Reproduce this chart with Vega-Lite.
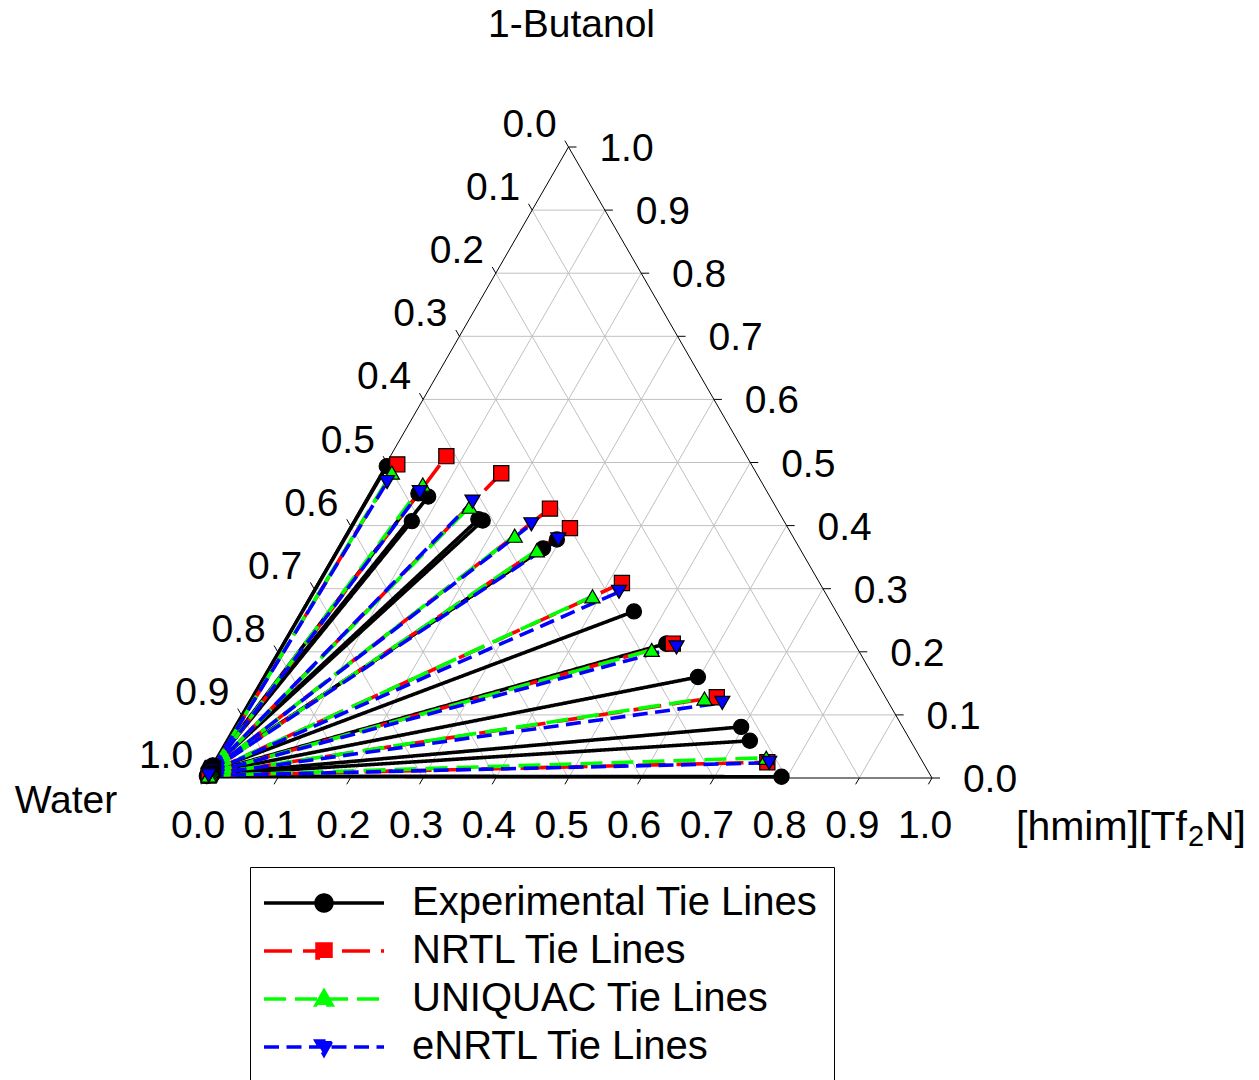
{
  "$schema": "https://vega.github.io/schema/vega-lite/v6.json",
  "autosize": {"type": "none"},
  "padding": {"left": 205, "top": 147, "right": 327, "bottom": 302},
  "width": 727,
  "height": 631,
  "background": "white",
  "config": {"view": {"stroke": null}},
  "datasets": {
    "tk": [{"v":0},{"v":0.1},{"v":0.2},{"v":0.3},{"v":0.4},{"v":0.5},{"v":0.6},{"v":0.7},{"v":0.8},{"v":0.9},{"v":1}],
    "ties": [
      {"model":"Experimental Tie Lines","aw":0.001,"bw":0.020,"ar":0.003,"br":0.494},
      {"model":"Experimental Tie Lines","aw":0.001,"bw":0.019,"ar":0.068,"br":0.451},
      {"model":"Experimental Tie Lines","aw":0.001,"bw":0.018,"ar":0.084,"br":0.446},
      {"model":"Experimental Tie Lines","aw":0.001,"bw":0.017,"ar":0.081,"br":0.407},
      {"model":"Experimental Tie Lines","aw":0.001,"bw":0.016,"ar":0.171,"br":0.410},
      {"model":"Experimental Tie Lines","aw":0.001,"bw":0.015,"ar":0.178,"br":0.408},
      {"model":"Experimental Tie Lines","aw":0.001,"bw":0.013,"ar":0.283,"br":0.364},
      {"model":"Experimental Tie Lines","aw":0.001,"bw":0.013,"ar":0.295,"br":0.378},
      {"model":"Experimental Tie Lines","aw":0.001,"bw":0.011,"ar":0.458,"br":0.264},
      {"model":"Experimental Tie Lines","aw":0.001,"bw":0.009,"ar":0.528,"br":0.213},
      {"model":"Experimental Tie Lines","aw":0.001,"bw":0.008,"ar":0.598,"br":0.160},
      {"model":"Experimental Tie Lines","aw":0.001,"bw":0.006,"ar":0.697,"br":0.081},
      {"model":"Experimental Tie Lines","aw":0.001,"bw":0.005,"ar":0.720,"br":0.059},
      {"model":"Experimental Tie Lines","aw":0.001,"bw":0.003,"ar":0.792,"br":0.002},
      {"model":"NRTL Tie Lines","aw":0.003,"bw":0.016,"ar":0.016,"br":0.497},
      {"model":"NRTL Tie Lines","aw":0.003,"bw":0.015,"ar":0.077,"br":0.510},
      {"model":"NRTL Tie Lines","aw":0.003,"bw":0.014,"ar":0.166,"br":0.483},
      {"model":"NRTL Tie Lines","aw":0.003,"bw":0.013,"ar":0.261,"br":0.427},
      {"model":"NRTL Tie Lines","aw":0.003,"bw":0.012,"ar":0.304,"br":0.396},
      {"model":"NRTL Tie Lines","aw":0.003,"bw":0.010,"ar":0.419,"br":0.309},
      {"model":"NRTL Tie Lines","aw":0.003,"bw":0.008,"ar":0.537,"br":0.213},
      {"model":"NRTL Tie Lines","aw":0.003,"bw":0.006,"ar":0.640,"br":0.128},
      {"model":"NRTL Tie Lines","aw":0.003,"bw":0.004,"ar":0.761,"br":0.025},
      {"model":"UNIQUAC Tie Lines","aw":0.003,"bw":0.016,"ar":0.015,"br":0.484},
      {"model":"UNIQUAC Tie Lines","aw":0.003,"bw":0.015,"ar":0.067,"br":0.465},
      {"model":"UNIQUAC Tie Lines","aw":0.003,"bw":0.014,"ar":0.149,"br":0.430},
      {"model":"UNIQUAC Tie Lines","aw":0.003,"bw":0.013,"ar":0.234,"br":0.384},
      {"model":"UNIQUAC Tie Lines","aw":0.003,"bw":0.012,"ar":0.276,"br":0.361},
      {"model":"UNIQUAC Tie Lines","aw":0.003,"bw":0.010,"ar":0.389,"br":0.288},
      {"model":"UNIQUAC Tie Lines","aw":0.003,"bw":0.008,"ar":0.513,"br":0.203},
      {"model":"UNIQUAC Tie Lines","aw":0.003,"bw":0.006,"ar":0.624,"br":0.126},
      {"model":"UNIQUAC Tie Lines","aw":0.003,"bw":0.004,"ar":0.756,"br":0.032},
      {"model":"eNRTL Tie Lines","aw":0.003,"bw":0.016,"ar":0.016,"br":0.469},
      {"model":"eNRTL Tie Lines","aw":0.003,"bw":0.015,"ar":0.069,"br":0.453},
      {"model":"eNRTL Tie Lines","aw":0.003,"bw":0.014,"ar":0.149,"br":0.438},
      {"model":"eNRTL Tie Lines","aw":0.003,"bw":0.013,"ar":0.248,"br":0.402},
      {"model":"eNRTL Tie Lines","aw":0.003,"bw":0.012,"ar":0.297,"br":0.378},
      {"model":"eNRTL Tie Lines","aw":0.003,"bw":0.010,"ar":0.422,"br":0.295},
      {"model":"eNRTL Tie Lines","aw":0.003,"bw":0.008,"ar":0.545,"br":0.207},
      {"model":"eNRTL Tie Lines","aw":0.003,"bw":0.006,"ar":0.652,"br":0.119},
      {"model":"eNRTL Tie Lines","aw":0.003,"bw":0.004,"ar":0.764,"br":0.024}
    ]
  },
  "layer": [
    {
      "data": {"name": "tk"},
      "transform": [
        {"filter": "datum.v > 0 && datum.v < 1"},
        {"calculate": "datum.v / 2", "as": "x1"},
        {"calculate": "1 - datum.v / 2", "as": "x2"},
        {"calculate": "datum.v * 0.8660254", "as": "y1"}
      ],
      "mark": {"type": "rule", "color": "#c0c0c0", "strokeWidth": 1},
      "encoding": {
        "x": {"field": "x1", "type": "quantitative", "scale": {"domain": [0, 1], "nice": false, "zero": false}, "axis": null},
        "x2": {"field": "x2"},
        "y": {"field": "y1", "type": "quantitative", "scale": {"domain": [0, 0.8660254], "nice": false, "zero": false}, "axis": null},
        "y2": {"field": "y1"}
      }
    },
    {
      "data": {"name": "tk"},
      "transform": [
        {"filter": "datum.v > 0 && datum.v < 1"},
        {"calculate": "datum.v", "as": "x1"},
        {"calculate": "(1 + datum.v) / 2", "as": "x2"},
        {"calculate": "0", "as": "y1"},
        {"calculate": "(1 - datum.v) * 0.8660254", "as": "y2"}
      ],
      "mark": {"type": "rule", "color": "#c0c0c0", "strokeWidth": 1},
      "encoding": {
        "x": {"field": "x1", "type": "quantitative", "axis": null},
        "x2": {"field": "x2"},
        "y": {"field": "y1", "type": "quantitative", "axis": null},
        "y2": {"field": "y2"}
      }
    },
    {
      "data": {"name": "tk"},
      "transform": [
        {"filter": "datum.v > 0 && datum.v < 1"},
        {"calculate": "1 - datum.v", "as": "x1"},
        {"calculate": "(1 - datum.v) / 2", "as": "x2"},
        {"calculate": "0", "as": "y1"},
        {"calculate": "(1 - datum.v) * 0.8660254", "as": "y2"}
      ],
      "mark": {"type": "rule", "color": "#c0c0c0", "strokeWidth": 1},
      "encoding": {
        "x": {"field": "x1", "type": "quantitative", "axis": null},
        "x2": {"field": "x2"},
        "y": {"field": "y1", "type": "quantitative", "axis": null},
        "y2": {"field": "y2"}
      }
    },
    {
      "data": {"values": [
        {"x1": 0, "x2": 0.5, "y1": 0, "y2": 0.8660254},
        {"x1": 1, "x2": 0.5, "y1": 0, "y2": 0.8660254},
        {"x1": 0, "x2": 1, "y1": 0, "y2": 0}
      ]},
      "mark": {"type": "rule", "color": "black", "strokeWidth": 1},
      "encoding": {
        "x": {"field": "x1", "type": "quantitative", "axis": null},
        "x2": {"field": "x2"},
        "y": {"field": "y1", "type": "quantitative", "axis": null},
        "y2": {"field": "y2"}
      }
    },
    {
      "data": {"name": "tk"},
      "transform": [
        {"calculate": "(1 - datum.v) / 2", "as": "x1"},
        {"calculate": "(1 - datum.v) / 2 - 0.005", "as": "x2"},
        {"calculate": "(1 - datum.v) * 0.8660254", "as": "y1"},
        {"calculate": "(1 - datum.v) * 0.8660254 + 0.00866", "as": "y2"}
      ],
      "mark": {"type": "rule", "color": "black", "strokeWidth": 1},
      "encoding": {
        "x": {"field": "x1", "type": "quantitative", "axis": null},
        "x2": {"field": "x2"},
        "y": {"field": "y1", "type": "quantitative", "axis": null},
        "y2": {"field": "y2"}
      }
    },
    {
      "data": {"name": "tk"},
      "transform": [
        {"calculate": "1 - datum.v / 2", "as": "x1"},
        {"calculate": "1 - datum.v / 2 + 0.011", "as": "x2"},
        {"calculate": "datum.v * 0.8660254", "as": "y1"}
      ],
      "mark": {"type": "rule", "color": "black", "strokeWidth": 1},
      "encoding": {
        "x": {"field": "x1", "type": "quantitative", "axis": null},
        "x2": {"field": "x2"},
        "y": {"field": "y1", "type": "quantitative", "axis": null},
        "y2": {"field": "y1"}
      }
    },
    {
      "data": {"name": "tk"},
      "transform": [
        {"calculate": "datum.v", "as": "x1"},
        {"calculate": "datum.v - 0.005", "as": "x2"},
        {"calculate": "0", "as": "y1"},
        {"calculate": "-0.00866", "as": "y2"}
      ],
      "mark": {"type": "rule", "color": "black", "strokeWidth": 1},
      "encoding": {
        "x": {"field": "x1", "type": "quantitative", "axis": null},
        "x2": {"field": "x2"},
        "y": {"field": "y1", "type": "quantitative", "axis": null},
        "y2": {"field": "y2"}
      }
    },
    {
      "data": {"name": "ties"},
      "transform": [
        {"calculate": "datum.aw + datum.bw / 2", "as": "xw"},
        {"calculate": "datum.bw * 0.8660254", "as": "yw"},
        {"calculate": "datum.ar + datum.br / 2", "as": "xr"},
        {"calculate": "datum.br * 0.8660254", "as": "yr"}
      ],
      "mark": {"type": "rule", "strokeWidth": 3.6},
      "encoding": {
        "x": {"field": "xw", "type": "quantitative", "axis": null},
        "y": {"field": "yw", "type": "quantitative", "axis": null},
        "x2": {"field": "xr"},
        "y2": {"field": "yr"},
        "color": {
          "field": "model", "type": "nominal",
          "scale": {"domain": ["Experimental Tie Lines","NRTL Tie Lines","UNIQUAC Tie Lines","eNRTL Tie Lines"],
                    "range": ["#000000","#ff0000","#00ff00","#0000ff"]},
          "legend": {
            "title": null, "orient": "none", "legendX": 45, "legendY": 720, "direction": "vertical",
            "padding": 16, "strokeColor": "black", "fillColor": "white",
            "labelFont": "Liberation Sans", "labelFontSize": 40, "labelColor": "black", "labelLimit": 1000,
            "symbolSize": 400, "symbolOffset": 38, "labelOffset": 68, "rowPadding": 8, "symbolStrokeWidth": 3.5,
            "encode": {
              "symbols": {
                "update": {
                  "shape": {"signal": "datum.value == 'Experimental Tie Lines' ? 'M-6,0H6M0.8,0A0.8,0.8,0,1,1,-0.8,0A0.8,0.8,0,1,1,0.8,0Z' : datum.value == 'NRTL Tie Lines' ? 'M-6,0H6M-0.7,-0.7H0.7V0.7H-0.7Z' : datum.value == 'UNIQUAC Tie Lines' ? 'M-6,0H6M0,-0.8L0.8,0.6L-0.8,0.6Z' : 'M-6,0H6M0,0.8L0.8,-0.6L-0.8,-0.6Z'"},
                  "fill": {"signal": "datum.value == 'Experimental Tie Lines' ? '#000000' : datum.value == 'NRTL Tie Lines' ? '#ff0000' : datum.value == 'UNIQUAC Tie Lines' ? '#00ff00' : '#0000ff'"},
                  "strokeDash": {"signal": "datum.value == 'Experimental Tie Lines' ? [1,0] : datum.value == 'NRTL Tie Lines' ? [28,11] : datum.value == 'UNIQUAC Tie Lines' ? [22,9] : [15,7.5]"},
                  "strokeWidth": {"value": 3.5},
                  "opacity": {"value": 1}
                }
              }
            }
          }
        },
        "strokeDash": {
          "field": "model", "type": "nominal",
          "scale": {"domain": ["Experimental Tie Lines","NRTL Tie Lines","UNIQUAC Tie Lines","eNRTL Tie Lines"],
                    "range": [[1,0],[28,11],[22,9],[15,7.5]]},
          "legend": null
        }
      }
    },
    {
      "data": {"name": "ties"},
      "transform": [
        {"calculate": "datum.aw + datum.bw / 2", "as": "xw"},
        {"calculate": "datum.bw * 0.8660254", "as": "yw"}
      ],
      "mark": {"type": "point", "filled": true, "stroke": "black", "strokeWidth": 1.2, "opacity": 1},
      "encoding": {
        "x": {"field": "xw", "type": "quantitative", "axis": null},
        "y": {"field": "yw", "type": "quantitative", "axis": null},
        "shape": {"field": "model", "type": "nominal",
                  "scale": {"domain": ["eNRTL Tie Lines","UNIQUAC Tie Lines","NRTL Tie Lines","Experimental Tie Lines"],
                            "range": ["triangle-down","triangle-up","square","circle"]}, "legend": null},
        "fill": {"field": "model", "type": "nominal",
                 "scale": {"domain": ["eNRTL Tie Lines","UNIQUAC Tie Lines","NRTL Tie Lines","Experimental Tie Lines"],
                           "range": ["#0000ff","#00ff00","#ff0000","#000000"]}, "legend": null},
        "size": {"field": "model", "type": "nominal",
                 "scale": {"domain": ["eNRTL Tie Lines","UNIQUAC Tie Lines","NRTL Tie Lines","Experimental Tie Lines"],
                           "range": [230,230,175,340]}, "legend": null}
      }
    },
    {
      "data": {"name": "ties"},
      "transform": [
        {"calculate": "datum.ar + datum.br / 2", "as": "xr"},
        {"calculate": "datum.br * 0.8660254", "as": "yr"}
      ],
      "mark": {"type": "point", "filled": true, "stroke": "black", "strokeWidth": 1.2, "opacity": 1},
      "encoding": {
        "x": {"field": "xr", "type": "quantitative", "axis": null},
        "y": {"field": "yr", "type": "quantitative", "axis": null},
        "shape": {"field": "model", "type": "nominal", "legend": null},
        "fill": {"field": "model", "type": "nominal", "legend": null},
        "size": {"field": "model", "type": "nominal", "legend": null}
      }
    },
    {
      "data": {"name": "tk"},
      "transform": [
        {"calculate": "(1 - datum.v) / 2", "as": "x1"},
        {"calculate": "(1 - datum.v) * 0.8660254", "as": "y1"}
      ],
      "mark": {"type": "text", "fontSize": 39, "font": "Liberation Sans", "color": "black", "align": "center", "baseline": "middle", "dx": -39, "dy": -22},
      "encoding": {
        "x": {"field": "x1", "type": "quantitative", "axis": null},
        "y": {"field": "y1", "type": "quantitative", "axis": null},
        "text": {"field": "v", "type": "quantitative", "format": ".1f"}
      }
    },
    {
      "data": {"name": "tk"},
      "transform": [
        {"calculate": "1 - datum.v / 2", "as": "x1"},
        {"calculate": "datum.v * 0.8660254", "as": "y1"}
      ],
      "mark": {"type": "text", "fontSize": 39, "font": "Liberation Sans", "color": "black", "align": "center", "baseline": "middle", "dx": 58, "dy": 2},
      "encoding": {
        "x": {"field": "x1", "type": "quantitative", "axis": null},
        "y": {"field": "y1", "type": "quantitative", "axis": null},
        "text": {"field": "v", "type": "quantitative", "format": ".1f"}
      }
    },
    {
      "data": {"name": "tk"},
      "transform": [
        {"calculate": "datum.v", "as": "x1"},
        {"calculate": "0", "as": "y1"}
      ],
      "mark": {"type": "text", "fontSize": 39, "font": "Liberation Sans", "color": "black", "align": "center", "baseline": "middle", "dx": -7, "dy": 48},
      "encoding": {
        "x": {"field": "x1", "type": "quantitative", "axis": null},
        "y": {"field": "y1", "type": "quantitative", "axis": null},
        "text": {"field": "v", "type": "quantitative", "format": ".1f"}
      }
    },
    {
      "data": {"values": [{"name": "1-Butanol", "x": 0.5, "y": 0.8660254}]},
      "mark": {"type": "text", "fontSize": 39, "font": "Liberation Sans", "color": "black", "align": "center", "baseline": "middle", "dx": 3, "dy": -122},
      "encoding": {
        "x": {"field": "x", "type": "quantitative", "axis": null},
        "y": {"field": "y", "type": "quantitative", "axis": null},
        "text": {"field": "name"}
      }
    },
    {
      "data": {"values": [{"name": "Water", "x": 0, "y": 0}]},
      "mark": {"type": "text", "fontSize": 39, "font": "Liberation Sans", "color": "black", "align": "center", "baseline": "middle", "dx": -139, "dy": 23},
      "encoding": {
        "x": {"field": "x", "type": "quantitative", "axis": null},
        "y": {"field": "y", "type": "quantitative", "axis": null},
        "text": {"field": "name"}
      }
    },
    {
      "data": {"values": [{"name": "[hmim][Tf", "x": 1, "y": 0}]},
      "mark": {"type": "text", "fontSize": 41, "font": "Liberation Sans", "color": "black", "align": "left", "baseline": "middle", "dx": 84, "dy": 50},
      "encoding": {
        "x": {"field": "x", "type": "quantitative", "axis": null},
        "y": {"field": "y", "type": "quantitative", "axis": null},
        "text": {"field": "name"}
      }
    },
    {
      "data": {"values": [{"name": "2", "x": 1, "y": 0}]},
      "mark": {"type": "text", "fontSize": 29, "font": "Liberation Sans", "color": "black", "align": "left", "baseline": "middle", "dx": 256, "dy": 59},
      "encoding": {
        "x": {"field": "x", "type": "quantitative", "axis": null},
        "y": {"field": "y", "type": "quantitative", "axis": null},
        "text": {"field": "name"}
      }
    },
    {
      "data": {"values": [{"name": "N]", "x": 1, "y": 0}]},
      "mark": {"type": "text", "fontSize": 41, "font": "Liberation Sans", "color": "black", "align": "left", "baseline": "middle", "dx": 273, "dy": 50},
      "encoding": {
        "x": {"field": "x", "type": "quantitative", "axis": null},
        "y": {"field": "y", "type": "quantitative", "axis": null},
        "text": {"field": "name"}
      }
    }
  ]
}
